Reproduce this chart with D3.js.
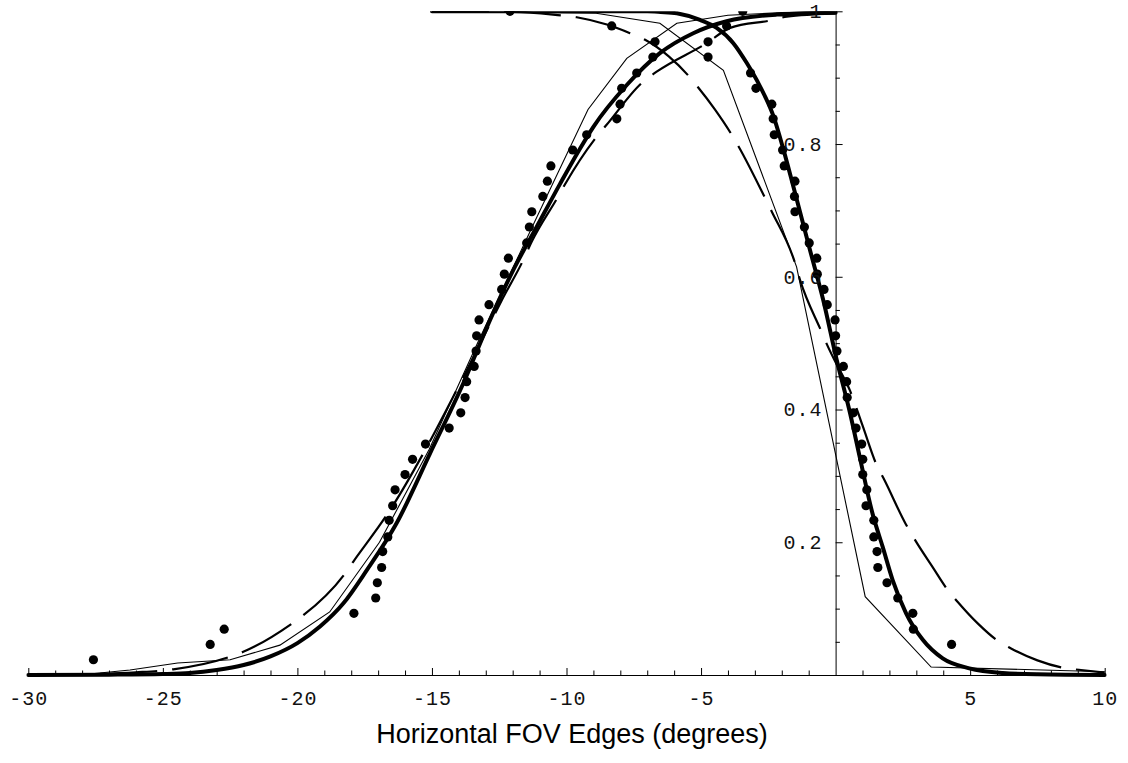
<!DOCTYPE html>
<html>
<head>
<meta charset="utf-8">
<script src="https://cdn.jsdelivr.net/npm/d3@7"></script>
<style>
  html, body { margin: 0; padding: 0; background: #ffffff; }
  svg { display: block; }
</style>
</head>
<body>
<script>
// ---------------- data ----------------
const xMajorTicks = [-30, -25, -20, -15, -10, -5, 5, 10];
const xTickLabels = ["-30", "-25", "-20", "-15", "-10", "-5", "5", "10"];
const xMinorTicks = [-29,-28,-27,-26,-24,-23,-22,-21,-19,-18,-17,-16,-14,-13,-12,-11,-9,-8,-7,-6,-4,-3,-2,-1,1,2,3,4,6,7,8,9];
const yMajorTicks = [0.2, 0.4, 0.6, 0.8, 1.0];
const yTickLabels = ["0.2", "0.4", "0.6", "0.8", "1"];
const yMinorTicks = [0.05,0.1,0.15,0.25,0.3,0.35,0.45,0.5,0.55,0.65,0.7,0.75,0.85,0.9,0.95];
const axisTitle = "Horizontal FOV Edges (degrees)";

// measured points: left edge (rising)
const risingDotsX = [-27.58,-23.24,-22.72,-17.90,-17.09,-17.03,-16.87,-16.83,-16.64,-16.59,-16.46,-16.37,-16.00,-15.72,-15.24,-14.36,-13.93,-13.77,-13.71,-13.43,-13.36,-13.34,-13.25,-12.88,-12.41,-12.31,-12.16,-11.48,-11.38,-11.29,-10.88,-10.71,-10.58,-9.77,-9.25,-8.13,-8.01,-7.95,-7.39,-6.79,-6.71,-4.05,-3.45];
const risingDotsY = [0.023,0.046,0.069,0.093,0.116,0.139,0.162,0.186,0.208,0.233,0.255,0.279,0.302,0.325,0.348,0.372,0.395,0.418,0.442,0.465,0.488,0.511,0.535,0.558,0.581,0.604,0.628,0.651,0.675,0.698,0.721,0.744,0.767,0.791,0.814,0.838,0.860,0.884,0.907,0.931,0.954,0.978,1.0];

// measured points: right edge (falling)
const fallingDotsX = [4.31,2.89,2.87,2.31,1.91,1.57,1.54,1.42,1.42,1.13,1.16,1.01,1.01,0.97,0.76,0.66,0.43,0.41,0.29,0.05,0.00,-0.02,-0.31,-0.43,-0.68,-0.70,-0.98,-1.16,-1.51,-1.53,-1.51,-1.91,-1.97,-2.28,-2.32,-2.37,-2.96,-3.16,-4.74,-4.74,-8.32,-12.10];
const fallingDotsY = [0.046,0.069,0.093,0.116,0.139,0.162,0.186,0.208,0.233,0.255,0.279,0.302,0.325,0.348,0.372,0.395,0.418,0.442,0.465,0.488,0.511,0.535,0.558,0.581,0.604,0.628,0.651,0.675,0.698,0.721,0.744,0.767,0.791,0.814,0.838,0.860,0.884,0.907,0.931,0.954,0.978,1.0];

// thick smooth fits
const thickRising = [[-30,0],[-27,0.0005],[-25,0.0015],[-24,0.003],[-23,0.0075],[-22,0.015],[-21,0.028],[-20,0.048],[-19.16,0.073],[-18.29,0.108],[-17.42,0.158],[-16.31,0.229],[-15.07,0.334],[-13.83,0.44],[-12.84,0.535],[-11.98,0.61],[-11.11,0.675],[-10.24,0.74],[-9.5,0.793],[-9.0,0.826],[-7.76,0.889],[-6.53,0.937],[-5.29,0.967],[-4.05,0.985],[-2.19,0.995],[0,0.998]];
const thickFalling = [[-15,1],[-7,1.0],[-6.5,0.999],[-5.9,0.997],[-5.04,0.987],[-4.42,0.975],[-3.8,0.952],[-3.3,0.922],[-2.81,0.887],[-2.31,0.842],[-1.94,0.792],[-1.57,0.736],[-0.95,0.640],[-0.46,0.565],[0.04,0.475],[0.54,0.394],[0.91,0.326],[1.38,0.242],[1.75,0.193],[2.12,0.143],[2.62,0.093],[3.24,0.053],[3.98,0.025],[4.97,0.010],[6.21,0.003],[7.5,0.001],[10,0]];

// thin polylines
const thinRising = [[-30,0],[-28.1,0],[-26.22,0.0075],[-24.45,0.018],[-22.5,0.023],[-20.65,0.045],[-18.8,0.095],[-16.95,0.2],[-15.1,0.34],[-13.25,0.505],[-11.1,0.69],[-9.2,0.852],[-7.76,0.929],[-5.9,0.982],[-4.0,0.994],[-2.0,0.998],[0,1.0]];
const thinFalling = [[-15,1],[-8.9,0.997],[-6.53,0.982],[-4.17,0.911],[-1.45,0.615],[1.1,0.118],[3.55,0.012],[10,0.005]];

// dashed curves
const dashedRising = [[-30,0],[-28,0.001],[-26,0.004],[-24.61,0.0086],[-22.5,0.0276],[-22.01,0.035],[-20.15,0.079],[-19.78,0.090],[-18.23,0.153],[-17.92,0.171],[-16.68,0.241],[-16.44,0.256],[-15.32,0.334],[-14.2,0.42],[-13.2,0.5],[-12.4,0.565],[-11.61,0.625],[-11.29,0.653],[-10.31,0.721],[-10.06,0.739],[-8.88,0.811],[-8.51,0.829],[-7.15,0.894],[-6.65,0.909],[-4.79,0.952],[-3.92,0.975],[-2.32,0.987],[-1.82,0.992],[0,0.997]];
const dashedFalling = [[-15,1.0],[-12,0.999],[-10.5,0.995],[-9.62,0.991],[-8.5,0.98],[-7.64,0.967],[-7.08,0.957],[-6.2,0.932],[-5.47,0.903],[-5.12,0.886],[-4.5,0.853],[-3.86,0.814],[-3.6,0.796],[-2.6,0.717],[-2.37,0.698],[-1.51,0.621],[-1.32,0.595],[-0.52,0.517],[-0.31,0.497],[0.04,0.468],[0.54,0.428],[1.0,0.376],[1.53,0.316],[1.8,0.295],[2.6,0.228],[2.99,0.201],[3.6,0.163],[4.17,0.128],[4.54,0.110],[5.3,0.077],[6.08,0.050],[6.52,0.040],[7.5,0.022],[8.56,0.010],[9.12,0.0075],[10,0.0035]];

// ---------------- drawing ----------------
const W = 1128, H = 763;
const svg = d3.select("body").append("svg").attr("width", W).attr("height", H);

const x = d3.scaleLinear().domain([-30, 10]).range([28.3, 1104.7]);
const y = d3.scaleLinear().domain([0, 1]).range([675, 11.3]);

svg.append("defs").append("clipPath").attr("id", "plotclip")
  .append("rect")
  .attr("x", x(-30) - 2).attr("y", y(1))
  .attr("width", x(10) - x(-30) + 4).attr("height", H - y(1));

const plot = svg.append("g").attr("clip-path", "url(#plotclip)");

const smooth = d3.line().x(d => x(d[0])).y(d => y(d[1])).curve(d3.curveMonotoneX);
const straight = d3.line().x(d => x(d[0])).y(d => y(d[1]));

// dots
const risingDots = risingDotsX.map((v, i) => [v, risingDotsY[i]]);
const fallingDots = fallingDotsX.map((v, i) => [v, fallingDotsY[i]]);
plot.selectAll("circle.dot")
  .data(risingDots.concat(fallingDots))
  .join("circle")
  .attr("class", "dot")
  .attr("cx", d => x(d[0]))
  .attr("cy", d => y(d[1]))
  .attr("r", 4.6)
  .attr("fill", "#000");

// dashed
[dashedRising, dashedFalling].forEach(s => {
  plot.append("path").attr("d", smooth(s))
    .attr("fill", "none").attr("stroke", "#000")
    .attr("stroke-width", 2.2).attr("stroke-dasharray", "57,15");
});
// thin
[thinRising, thinFalling].forEach(s => {
  plot.append("path").attr("d", straight(s))
    .attr("fill", "none").attr("stroke", "#000")
    .attr("stroke-width", 1.1).attr("stroke-linejoin", "miter");
});
// thick
[thickRising, thickFalling].forEach(s => {
  plot.append("path").attr("d", smooth(s))
    .attr("fill", "none").attr("stroke", "#000")
    .attr("stroke-width", 4).attr("stroke-linecap", "round");
});

// x axis
const gx = svg.append("g").attr("transform", `translate(0,${y(0)})`);
gx.call(d3.axisBottom(x).tickValues(xMajorTicks)
  .tickFormat((d, i) => xTickLabels[i])
  .tickSize(-7).tickSizeOuter(0).tickPadding(16));
const gxm = svg.append("g").attr("transform", `translate(0,${y(0)})`);
gxm.call(d3.axisBottom(x).tickValues(xMinorTicks).tickFormat("").tickSize(-4.5).tickSizeOuter(0));
gxm.select(".domain").remove();

// y axis
const gy = svg.append("g").attr("transform", `translate(${x(0)},0)`);
gy.call(d3.axisLeft(y).tickValues(yMajorTicks)
  .tickFormat((d, i) => yTickLabels[i])
  .tickSize(-7).tickSizeOuter(0).tickPadding(13));
const gym = svg.append("g").attr("transform", `translate(${x(0)},0)`);
gym.call(d3.axisLeft(y).tickValues(yMinorTicks).tickFormat("").tickSize(-4.3).tickSizeOuter(0));
gym.select(".domain").remove();

[gx, gxm, gy, gym].forEach(g => {
  g.selectAll("path, line").attr("stroke", "#000").attr("stroke-width", 1);
  g.selectAll("text")
    .attr("font-family", "'Liberation Mono', 'DejaVu Sans Mono', monospace")
    .attr("font-size", 20)
    .attr("letter-spacing", 1)
    .attr("fill", "#111");
});

// axis title
svg.append("text")
  .attr("x", 572).attr("y", 743)
  .attr("text-anchor", "middle")
  .attr("font-family", "'Liberation Sans', Arial, sans-serif")
  .attr("font-size", 27)
  .attr("fill", "#000")
  .text(axisTitle);
</script>
</body>
</html>
